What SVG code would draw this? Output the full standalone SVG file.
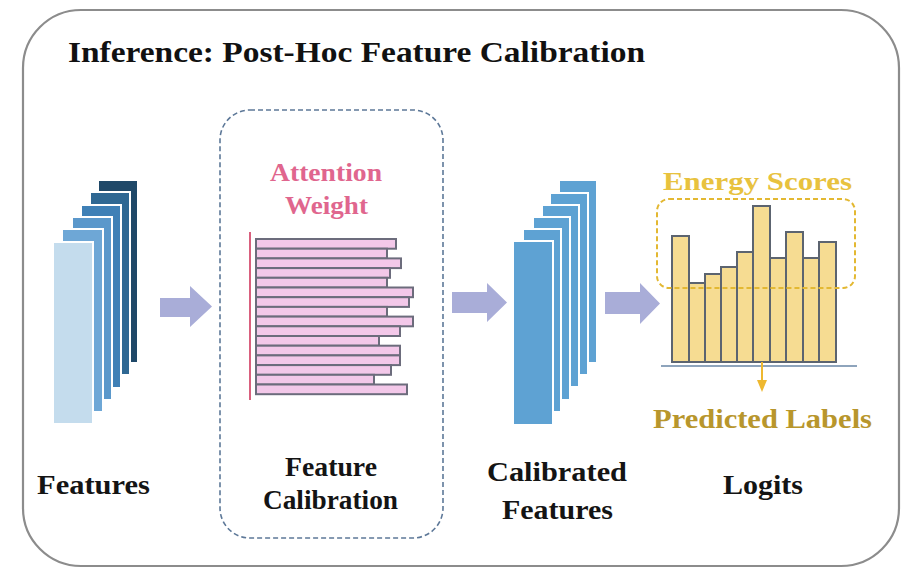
<svg xmlns="http://www.w3.org/2000/svg" width="901" height="568" viewBox="0 0 901 568">
<style>
.t{font-family:"Liberation Serif","Times New Roman",serif;font-weight:bold}
.lbl{font-size:28px;fill:#141414}
.feat{stroke:#ffffff;stroke-width:2}
.cal{fill:#5ea2d3;stroke:#ffffff;stroke-width:2}
.att{fill:#f3c8e9;stroke:#6c6c7c;stroke-width:2}
.bar{fill:#f6dc92;stroke:#5c6470;stroke-width:2}
.flow{fill:#a9add8}
</style>
<rect width="901" height="568" fill="#ffffff"/>
<g id="frame">
<rect x="23" y="10" width="876" height="556" rx="58" ry="58" fill="#ffffff" stroke="#8c8c8c" stroke-width="2.2"/>
<text class="t" x="68" y="62" font-size="30" fill="#111111" textLength="577" lengthAdjust="spacingAndGlyphs">Inference: Post-Hoc Feature Calibration</text>
</g>
<g id="features">
<rect class="feat" x="98" y="180" width="40" height="183" fill="#1f4868"/>
<rect class="feat" x="90" y="192" width="40" height="183" fill="#2f6893"/>
<rect class="feat" x="81" y="205" width="40" height="183" fill="#3f80b6"/>
<rect class="feat" x="72" y="217" width="40" height="183" fill="#5b98cb"/>
<rect class="feat" x="62" y="229" width="41" height="183" fill="#6ea7d6"/>
<rect class="feat" x="53" y="242" width="40" height="182" fill="#c4dced"/>
<text class="t lbl" x="37" y="494" textLength="113" lengthAdjust="spacingAndGlyphs">Features</text>
</g>
<g id="feature-calibration">
<rect x="220" y="110" width="223" height="428" rx="30" ry="30" fill="none" stroke="#5d7898" stroke-width="1.6" stroke-dasharray="5,3"/>
<text class="t" x="270" y="181" font-size="25" fill="#e0668e" textLength="112" lengthAdjust="spacingAndGlyphs">Attention</text>
<text class="t" x="285" y="214" font-size="25" fill="#e0668e" textLength="83" lengthAdjust="spacingAndGlyphs">Weight</text>
<line x1="250" y1="232" x2="250" y2="400" stroke="#d9607e" stroke-width="2"/>
<rect class="att" x="256" y="239" width="140" height="9.7"/>
<rect class="att" x="256" y="248.7" width="131" height="9.7"/>
<rect class="att" x="256" y="258.4" width="145" height="9.7"/>
<rect class="att" x="256" y="268.1" width="134" height="9.7"/>
<rect class="att" x="256" y="277.8" width="131" height="9.7"/>
<rect class="att" x="256" y="287.5" width="157" height="9.7"/>
<rect class="att" x="256" y="297.2" width="153" height="9.7"/>
<rect class="att" x="256" y="306.9" width="131" height="9.7"/>
<rect class="att" x="256" y="316.6" width="157" height="9.7"/>
<rect class="att" x="256" y="326.3" width="144" height="9.7"/>
<rect class="att" x="256" y="336" width="123" height="9.7"/>
<rect class="att" x="256" y="345.7" width="144" height="9.7"/>
<rect class="att" x="256" y="355.4" width="144" height="9.7"/>
<rect class="att" x="256" y="365.1" width="135" height="9.7"/>
<rect class="att" x="256" y="374.8" width="118" height="9.7"/>
<rect class="att" x="256" y="384.5" width="151" height="9.7"/>
<text class="t lbl" x="285" y="476" textLength="92" lengthAdjust="spacingAndGlyphs">Feature</text>
<text class="t lbl" x="263" y="509" textLength="135" lengthAdjust="spacingAndGlyphs">Calibration</text>
</g>
<g id="calibrated-features">
<rect class="cal" x="559" y="180" width="38" height="183"/>
<rect class="cal" x="550" y="193" width="38" height="182"/>
<rect class="cal" x="542" y="205" width="37" height="182"/>
<rect class="cal" x="533" y="217" width="37" height="183"/>
<rect class="cal" x="523" y="229" width="38" height="183"/>
<rect class="cal" x="513" y="241" width="40" height="184" fill="#579bcd"/>
<text class="t lbl" x="487" y="481" textLength="140" lengthAdjust="spacingAndGlyphs">Calibrated</text>
<text class="t lbl" x="502" y="519" textLength="111" lengthAdjust="spacingAndGlyphs">Features</text>
</g>
<g id="logits">
<text class="t" x="663" y="190" font-size="25" fill="#e8c23e" textLength="189" lengthAdjust="spacingAndGlyphs">Energy Scores</text>
<rect class="bar" x="672" y="236" width="17" height="126"/>
<rect class="bar" x="689" y="283" width="16" height="79"/>
<rect class="bar" x="705" y="274" width="16" height="88"/>
<rect class="bar" x="721" y="267" width="16" height="95"/>
<rect class="bar" x="737" y="252" width="16" height="110"/>
<rect class="bar" x="753" y="206" width="17" height="156" fill="#f6c93e"/>
<rect class="bar" x="770" y="258" width="16" height="104"/>
<rect class="bar" x="786" y="232" width="17" height="130"/>
<rect class="bar" x="803" y="258" width="16" height="104"/>
<rect class="bar" x="819" y="242" width="17" height="120"/>
<rect x="657" y="199" width="198" height="89" rx="12" ry="12" fill="none" stroke="#e3b832" stroke-width="2" stroke-dasharray="5,3"/>
<line x1="661" y1="366" x2="857" y2="366" stroke="#8ea4bc" stroke-width="1.8"/>
<line x1="762" y1="362" x2="762" y2="381" stroke="#eeb830" stroke-width="2"/>
<polygon points="757,380 767,380 762,392" fill="#eeb830"/>
<text class="t" x="653" y="428" font-size="27" fill="#b8962c" textLength="219" lengthAdjust="spacingAndGlyphs">Predicted Labels</text>
<text class="t lbl" x="723" y="494" textLength="80" lengthAdjust="spacingAndGlyphs">Logits</text>
</g>
<g id="connectors">
<polygon class="flow" points="160,298 190,298 190,286 212,306.5 190,327 190,317 160,317"/>
<polygon class="flow" points="452,292 487,292 487,283 507,302.5 487,322 487,313 452,313"/>
<polygon class="flow" points="605,292 640,292 640,283 660,303.5 640,324 640,314 605,314" fill="#a0a6d6"/>
</g>
</svg>
